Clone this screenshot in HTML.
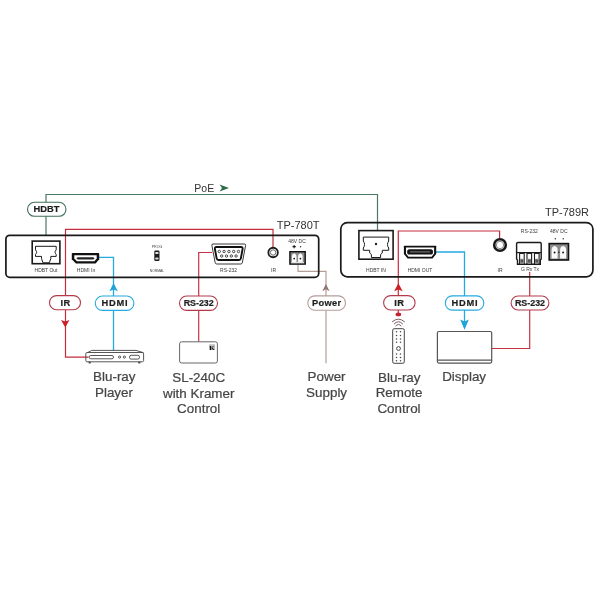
<!DOCTYPE html>
<html><head><meta charset="utf-8">
<style>
html,body{margin:0;padding:0;background:#fff;width:600px;height:600px;overflow:hidden;}
svg{display:block;font-family:"Liberation Sans",sans-serif;will-change:transform;}
.lbl{font-size:13.4px;fill:#454545;stroke:#454545;stroke-width:0.22px;text-anchor:middle;}
.pill{font-size:9.3px;font-weight:bold;fill:#1e1e1e;stroke:#1e1e1e;stroke-width:0.2px;letter-spacing:0.3px;text-anchor:middle;}
.tiny{font-size:5px;fill:#3a3a3a;text-anchor:middle;}
.model{font-size:11px;fill:#333;}
</style></head>
<body>
<svg width="600" height="600" viewBox="0 0 600 600">
<!-- green HDBT line -->
<path d="M46,235 V194.5 H377.5 V230" fill="none" stroke="#4a7a62" stroke-width="1.2"/>
<text x="194.3" y="191.6" style="font-size:10.5px;fill:#333">PoE</text>
<path d="M219.5,184.5 L229,188 L219.5,191.5 L222,188 Z" fill="#2e6b47"/>

<!-- red lines -->
<path d="M273,247 V229.3 H65.5 V357.2 H88.5" fill="none" stroke="#c42d3b" stroke-width="1.2"/>
<path d="M61,320 L65.3,321.6 L69.4,320 L65.3,327.4 Z" fill="#cc2027"/>
<path d="M212,252.5 H198.7 V341.5" fill="none" stroke="#c33545" stroke-width="1.2"/>
<path d="M499.6,238 V231 H398.3 V314" fill="none" stroke="#c42d3b" stroke-width="1.2"/>
<path d="M398.4,283.2 L402.7,291.2 L398.4,289.4 L394.1,291.2 Z" fill="#cc2027"/>
<ellipse cx="398.4" cy="314.4" rx="2.8" ry="1.9" fill="#c42030"/>
<path d="M529.7,272 V348.5 H492" fill="none" stroke="#c33545" stroke-width="1.2"/>

<!-- cyan lines -->
<path d="M99,257.3 H113.5 V350.5" fill="none" stroke="#26a9de" stroke-width="1.3"/>
<path d="M113.6,283 L117.8,291.3 L113.6,289.4 L109.4,291.3 Z" fill="#1fa3d9"/>
<path d="M436,252 H464.5 V322" fill="none" stroke="#26a9de" stroke-width="1.3"/>
<path d="M460.2,319.4 L464.5,321.4 L468.8,319.4 L464.5,329.8 Z" fill="#1fa3d9"/>

<!-- power line -->
<path d="M298,265 V271.3 H326 V363.3" fill="none" stroke="#b49e98" stroke-width="1.2"/>
<path d="M322.3,291.2 L325.9,284 L329.6,291.2 L325.9,289.2 Z" fill="#8e7873"/>

<!-- left device TP-780T -->
<text class="model" x="276.7" y="228.9">TP-780T</text>
<rect x="5.9" y="235.3" width="312.8" height="42" rx="3.8" fill="none" stroke="#1a1a1a" stroke-width="1.7"/>
<rect x="32.2" y="241.1" width="27.7" height="22.6" fill="none" stroke="#1a1a1a" stroke-width="1.6"/>
<path d="M35.5,246.3 H56.2 V249.8 Q55,251.5 55,252.3 Q55,253 56.2,254.6 V256.4 H50.8 V258.5 L49.3,262.8 H43 L41.5,258.5 V256.4 H35.5 V254.6 Q36.7,253 36.7,252.3 Q36.7,251.5 35.5,249.8 Z" fill="none" stroke="#1a1a1a" stroke-width="1"/>
<text class="tiny" x="46" y="272">HDBT Out</text>
<path d="M72.5,253 H98.5 Q99.2,253 99.2,253.7 V259.3 L95.6,263.6 H75.9 L71.8,259.3 V253.7 Q71.8,253 72.5,253 Z" fill="#111"/>
<path d="M74.3,255.2 H96.7 V258.6 L94.4,261.3 H77 L74.3,258.6 Z" fill="#fff"/>
<path d="M76.3,258.3 L77.8,257.2 H93.2 L94.7,258.3 L93.2,259.4 H77.8 Z" fill="#222"/>
<text class="tiny" x="86" y="272">HDMI In</text>
<text class="tiny" x="157" y="248" style="font-size:3.6px">PROG</text>
<rect x="154.3" y="250.5" width="5.2" height="10.5" rx="1.2" fill="#1a1a1a"/>
<rect x="155.3" y="252" width="3.2" height="2" rx="0.6" fill="#ddd"/>
<rect x="155.3" y="257.5" width="3.2" height="2" rx="0.6" fill="#ddd"/>
<text class="tiny" x="157" y="272" style="font-size:3.4px">NORMAL</text>
<!-- DB9 -->
<path d="M213,244 H244.5 Q246,244 245.6,245.5 L242.3,262.8 Q242,264 240.8,264 H216.7 Q215.5,264 215.2,262.8 L211.9,245.5 Q211.5,244 213,244 Z" fill="none" stroke="#222" stroke-width="0.9"/>
<path d="M216.5,247 H241 Q243,247 242.6,249 L240.8,258.6 Q240.5,260 239,260 H218.5 Q217,260 216.7,258.6 L214.9,249 Q214.5,247 216.5,247 Z" fill="none" stroke="#111" stroke-width="1.9"/>
<g fill="none" stroke="#222" stroke-width="0.8">
<circle cx="219.3" cy="251.5" r="1.2"/><circle cx="224.1" cy="251.5" r="1.2"/><circle cx="228.9" cy="251.5" r="1.2"/><circle cx="233.7" cy="251.5" r="1.2"/><circle cx="238.5" cy="251.5" r="1.2"/>
<circle cx="221.7" cy="256" r="1.2"/><circle cx="226.5" cy="256" r="1.2"/><circle cx="231.3" cy="256" r="1.2"/><circle cx="236.1" cy="256" r="1.2"/>
</g>
<text class="tiny" x="228.5" y="272">RS-232</text>
<circle cx="273.1" cy="252.5" r="4.75" fill="none" stroke="#1a1a1a" stroke-width="1.8"/><circle cx="273.1" cy="252.5" r="2.7" fill="#fff" stroke="#555" stroke-width="0.9"/>
<text class="tiny" x="273.5" y="272">IR</text>
<text class="tiny" x="297" y="242.8">48V DC</text>
<path d="M292.5,246.6 h3.3 M294.15,244.95 v3.3" stroke="#222" stroke-width="1.1"/>
<circle cx="300.5" cy="246.7" r="0.75" fill="#333"/>
<rect x="289.9" y="251.7" width="15.3" height="12.4" fill="#8c8c8c" stroke="#111" stroke-width="1.4"/>
<path d="M291.9,262.6 V256.3 Q291.9,254 294.2,253.2 Q296.5,254 296.5,256.3 V262.6 Z M298.1,262.6 V256.3 Q298.1,254 300.4,253.2 Q302.7,254 302.7,256.3 V262.6 Z" fill="#fafafa"/>
<circle cx="294.2" cy="258.6" r="0.85" fill="#111"/><circle cx="300.4" cy="258.6" r="0.85" fill="#111"/>
<rect x="291.2" y="262.2" width="12.8" height="1" fill="#eee"/>

<!-- right device TP-789R -->
<text class="model" x="545" y="216.1">TP-789R</text>
<rect x="340.8" y="222.6" width="252.1" height="54.2" rx="6.5" fill="none" stroke="#1a1a1a" stroke-width="1.7"/>
<rect x="358.9" y="230.6" width="34.2" height="28.6" fill="none" stroke="#1a1a1a" stroke-width="1.6"/>
<path d="M363.3,237.1 H388.7 V241 Q387.5,242.5 387.5,244.5 Q387.5,246.5 388.7,248 V250.3 H382.3 V253 L380.6,254.5 V257.5 H371.4 V254.5 L369.7,253 V250.3 H363.3 V248 Q364.5,246.5 364.5,244.5 Q364.5,242.5 363.3,241 Z" fill="none" stroke="#1a1a1a" stroke-width="1"/>
<circle cx="376" cy="244" r="1.2" fill="#222"/>
<text class="tiny" x="376" y="272">HDBT IN</text>
<path d="M404.5,245.7 H435.6 Q436.2,245.7 436.2,246.3 V254 L432.5,258.6 H407.6 L403.9,254 V246.3 Q403.9,245.7 404.5,245.7 Z" fill="#111"/>
<path d="M406,247.6 H434.1 V253.4 L431.6,256.7 H408.5 L406,253.4 Z" fill="#fff"/>
<path d="M409.3,249.2 H430.8 Q433,249.2 433,251.9 Q433,254.6 430.8,254.6 H409.3 Q407.1,254.6 407.1,251.9 Q407.1,249.2 409.3,249.2 Z" fill="#151515"/>
<path d="M410,251.9 H430" stroke="#ccc" stroke-width="0.6"/>
<text class="tiny" x="420" y="272">HDMI OUT</text>
<circle cx="500" cy="245" r="5.8" fill="none" stroke="#1a1a1a" stroke-width="2.6"/><circle cx="500" cy="245" r="3.7" fill="#fff" stroke="#777" stroke-width="0.9"/>
<text class="tiny" x="500" y="272">IR</text>
<text class="tiny" x="529.3" y="233.3">RS-232</text>
<path d="M518,242.5 H540 Q541.2,242.5 541.2,243.7 V259 L540.3,260 V264.2 H517.5 V260 L516.6,259 V243.7 Q516.6,242.5 518,242.5 Z" fill="#fff" stroke="#1a1a1a" stroke-width="1.4"/>
<path d="M516.6,252.6 H541.2" stroke="#1a1a1a" stroke-width="1.2"/>
<g fill="#fff" stroke="#1a1a1a" stroke-width="1.1">
<rect x="519.6" y="253.4" width="4.6" height="10.6"/>
<rect x="527.0" y="253.4" width="4.6" height="10.6"/>
<rect x="534.5" y="253.4" width="4.6" height="10.6"/>
</g>
<g fill="#8a8a8a">
<rect x="520.1" y="258.8" width="3.6" height="4.6"/>
<rect x="527.5" y="258.8" width="3.6" height="4.6"/>
<rect x="535.0" y="258.8" width="3.6" height="4.6"/>
</g>
<g fill="none" stroke="#222" stroke-width="0.6">
<circle cx="521.9" cy="261" r="1"/><circle cx="529.3" cy="261" r="1"/><circle cx="536.8" cy="261" r="1"/>
</g>
<text class="tiny" x="530" y="270.5">G Rx Tx</text>
<text class="tiny" x="558.8" y="233.3">48V DC</text>
<circle cx="555.3" cy="238.8" r="0.75" fill="#333"/><circle cx="563.2" cy="238.8" r="0.75" fill="#333"/>
<rect x="549.2" y="243.6" width="19.3" height="16.4" fill="#8c8c8c" stroke="#111" stroke-width="1.6"/>
<path d="M551.6,258.4 V249.6 Q551.6,246.8 554.6,245.9 Q557.6,246.8 557.6,249.6 V258.4 Z M560.1,258.4 V249.6 Q560.1,246.8 563.1,245.9 Q566.1,246.8 566.1,249.6 V258.4 Z" fill="#fafafa"/>
<circle cx="554.6" cy="252.5" r="0.95" fill="#111"/><circle cx="563.1" cy="252.5" r="0.95" fill="#111"/><circle cx="558.85" cy="252.3" r="0.7" fill="#111"/>

<!-- pills -->
<rect x="27.5" y="202.3" width="38.5" height="14" rx="7" fill="#fff" stroke="#3f6f57" stroke-width="1.1"/>
<text class="pill" x="46.5" y="212.3" style="letter-spacing:0">HDBT</text>
<rect x="49.5" y="295.6" width="31" height="14.2" rx="7.1" fill="#fff" stroke="#b43a4a" stroke-width="1.1"/>
<text class="pill" x="65.5" y="305.9">IR</text>
<rect x="95.3" y="296" width="38.6" height="14.4" rx="7.2" fill="#fff" stroke="#26a9de" stroke-width="1.1"/>
<text class="pill" x="115" y="306.3" style="letter-spacing:0.8px">HDMI</text>
<rect x="179.5" y="296" width="38" height="14.4" rx="7.2" fill="#fff" stroke="#b43a4a" stroke-width="1.1"/>
<text class="pill" x="198.7" y="306.3" style="font-size:8.9px;letter-spacing:0">RS-232</text>
<rect x="307.8" y="295.9" width="37.7" height="14.3" rx="7.1" fill="#fff" stroke="#b49e98" stroke-width="1.1"/>
<text class="pill" x="326.7" y="306.4">Power</text>
<rect x="383.6" y="295.6" width="31.5" height="14.4" rx="7.2" fill="#fff" stroke="#b43a4a" stroke-width="1.1"/>
<text class="pill" x="399.3" y="306">IR</text>
<rect x="445.3" y="295.9" width="38.5" height="14.2" rx="7.1" fill="#fff" stroke="#26a9de" stroke-width="1.1"/>
<text class="pill" x="465" y="306.2" style="letter-spacing:0.8px">HDMI</text>
<rect x="511.1" y="296" width="37.8" height="14" rx="7" fill="#fff" stroke="#b43a4a" stroke-width="1.1"/>
<text class="pill" x="530" y="306.2" style="font-size:8.9px;letter-spacing:0">RS-232</text>

<!-- Blu-ray player -->
<g fill="none" stroke="#444" stroke-width="0.9">
<path d="M87.5,352.6 L91.8,350.4 H136 L143.5,352.7"/>
<rect x="85.8" y="352.5" width="57.8" height="9.3" rx="1.3"/>
<rect x="89.2" y="355.5" width="24.3" height="3.3" rx="1.6"/>
<circle cx="119.6" cy="357.1" r="1.1"/><circle cx="124.4" cy="357.1" r="1.1"/>
<rect x="129.5" y="355.3" width="10" height="3.8" rx="1.7"/>
</g>
<rect x="88.6" y="361.8" width="2.2" height="1.6" fill="#444"/>
<rect x="138.2" y="361.8" width="2.2" height="1.6" fill="#444"/>
<text class="lbl" x="114.3" y="380.7">Blu-ray</text>
<text class="lbl" x="114" y="396.6">Player</text>

<!-- SL-240C -->
<rect x="179.6" y="341.8" width="37.8" height="21.2" rx="2" fill="#fff" stroke="#555" stroke-width="0.9"/>
<rect x="209" y="344.2" width="6" height="5.8" rx="0.8" fill="#bdbdbd"/>
<text x="212" y="349.6" style="font-family:'Liberation Serif',serif;font-size:7px;font-weight:bold;fill:#111;text-anchor:middle">K</text>
<text class="lbl" x="198.7" y="381.7">SL-240C</text>
<text class="lbl" x="198.7" y="397.7">with Kramer</text>
<text class="lbl" x="198.7" y="413">Control</text>

<!-- Power supply -->
<text class="lbl" x="326.6" y="381.3">Power</text>
<text class="lbl" x="326.6" y="396.7">Supply</text>

<!-- Remote -->
<g fill="none" stroke="#444" stroke-width="1">
<path d="M392,322 Q398.4,316.3 404.8,322" stroke="#7a5e62"/>
<path d="M393.9,324.2 Q398.4,319.3 402.9,324.2" stroke="#7a5e62"/>
<path d="M395.5,326.2 Q398.4,322.8 401.3,326.2" stroke="#7a5e62"/>
<rect x="392.7" y="328.7" width="11.6" height="34.6" rx="1.5"/>
<circle cx="398.5" cy="348.5" r="1.9"/>
</g>
<g fill="#444">
<circle cx="396.5" cy="331.8" r="0.75"/><circle cx="400.5" cy="331.8" r="0.75"/>
<circle cx="396.5" cy="335.5" r="0.75"/><circle cx="400.5" cy="335.5" r="0.75"/>
<circle cx="396.5" cy="339" r="0.75"/><circle cx="400.5" cy="339" r="0.75"/>
<circle cx="396.5" cy="342.2" r="0.75"/><circle cx="400.5" cy="342.2" r="0.75"/>
<circle cx="396.5" cy="354" r="0.75"/><circle cx="400.5" cy="354" r="0.75"/>
<circle cx="396.5" cy="357.5" r="0.75"/><circle cx="400.5" cy="357.5" r="0.75"/>
<circle cx="396.5" cy="360.7" r="0.75"/><circle cx="400.5" cy="360.7" r="0.75"/>
</g>
<text class="lbl" x="399.3" y="381.7">Blu-ray</text>
<text class="lbl" x="399.1" y="397.3">Remote</text>
<text class="lbl" x="399" y="413">Control</text>

<!-- Display -->
<rect x="437.4" y="331.5" width="54.3" height="31.6" rx="1.5" fill="#fff" stroke="#555" stroke-width="1.2"/>
<path d="M437.4,360.1 H491.7" stroke="#555" stroke-width="1.1"/>
<text class="lbl" x="464.1" y="381">Display</text>
</svg>
</body></html>
